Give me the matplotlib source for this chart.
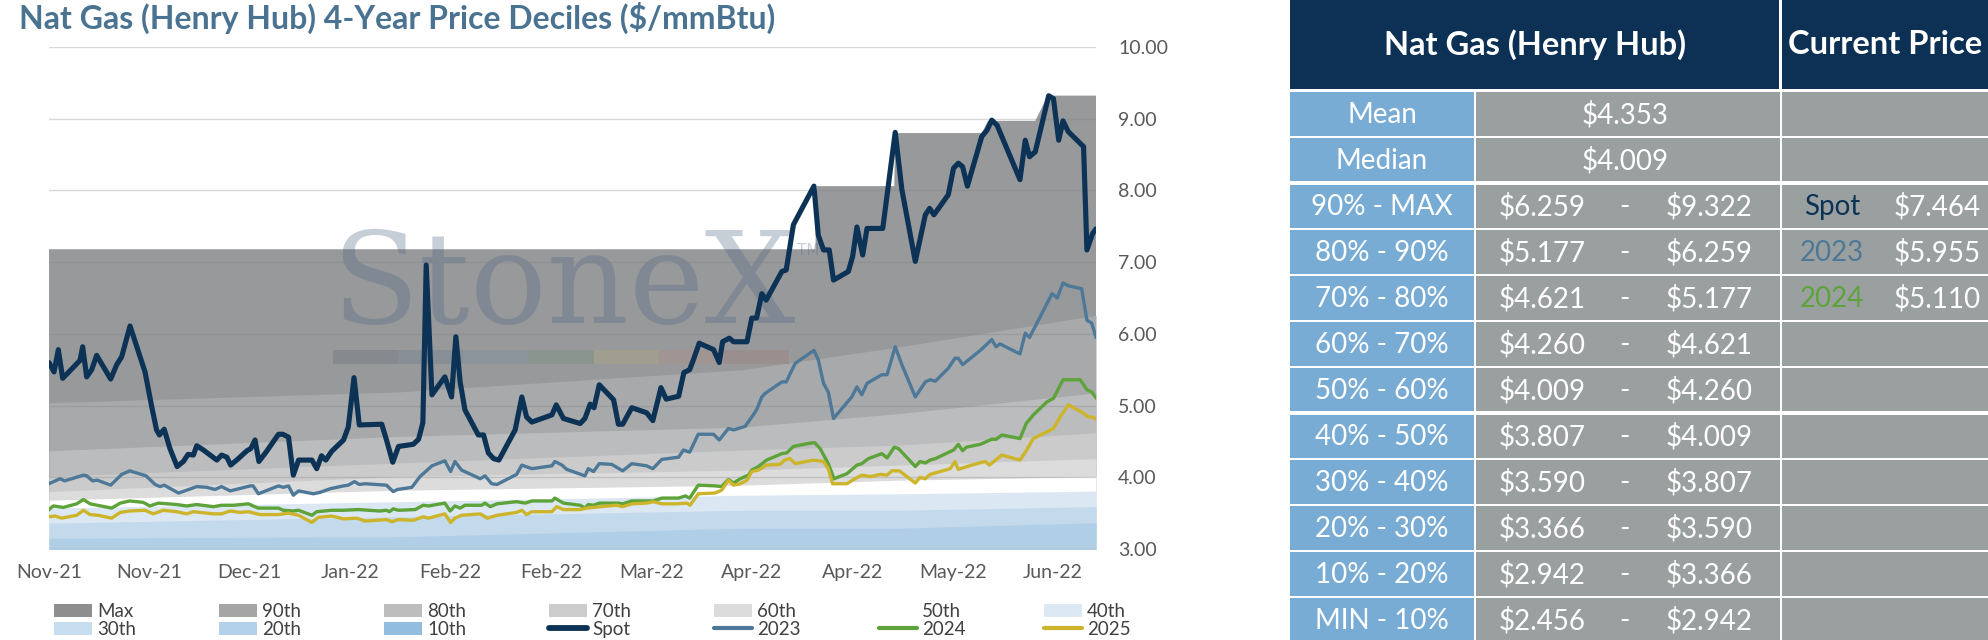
import numpy as np
import pandas as pd
import matplotlib
matplotlib.use("Agg")
import matplotlib.pyplot as plt
import matplotlib.dates as mdates
from matplotlib.patches import Patch, Rectangle
from matplotlib.lines import Line2D

plt.rcParams['font.family'] = ['Lato', 'DejaVu Sans']

# ---------------- data ----------------
START = pd.Timestamp('2021-11-09')

spot_day = [0, 1.05, 1.95, 2.86, 6.49, 7.04, 7.88, 8.93, 9.97, 12.9, 14.16, 15.2, 16.95, 20.08, 21.5,
            22.5, 23.1, 24.1, 25.3, 26.8, 28.1, 29.1, 30.2, 30.9, 32.3, 33.7, 35.1, 36.1, 37.2, 38.0,
            39.6, 41.4, 42.2, 43.1, 43.9, 45.5, 48.0, 48.9, 50.1, 51.1, 52.2, 55.0, 56.0, 57.0, 57.9,
            59.1, 61.6, 62.6, 63.8, 64.9, 69.6, 70.6, 71.9, 73.1, 76.2, 77.3, 78.2, 78.9, 80.1, 82.8,
            84.2, 85.1, 86.0, 87.0, 89.8, 90.9, 91.9, 93.0, 94.1, 97.5, 98.9, 99.9, 101.0, 105.2, 106.1,
            107.6, 111.1, 112.1, 113.2, 114.0, 115.1, 118.1, 119.1, 120.0, 121.9, 125.0, 126.3, 128.0,
            129.1, 131.7, 132.8, 134.0, 134.8, 136.0, 139.0, 140.2, 140.9, 142.3, 143.2, 146.0, 147.0,
            148.0, 149.1, 150.0, 153.3, 154.2, 155.7, 156.4, 160.0, 160.9, 162.0, 163.2, 164.1, 167.2,
            168.1, 169.0, 170.2, 171.1, 174.4, 177.0, 178.4, 181.2, 183.3, 184.2, 185.1, 188.1, 189.2,
            190.2, 191.1, 192.1, 195.1, 196.2, 197.2, 198.3, 203.1, 204.2, 205.1, 206.3, 209.1, 210.1,
            211.2, 212.1, 213.2, 216.4, 217.1, 218.3, 219.0]
spot_val = [5.60, 5.47, 5.78, 5.38, 5.63, 5.82, 5.40, 5.50, 5.70, 5.37, 5.57, 5.68, 6.11, 5.47, 4.98,
            4.66, 4.59, 4.67, 4.40, 4.15, 4.22, 4.32, 4.31, 4.44, 4.38, 4.31, 4.24, 4.31, 4.28, 4.17,
            4.26, 4.37, 4.40, 4.52, 4.22, 4.36, 4.60, 4.60, 4.56, 4.03, 4.24, 4.24, 4.12, 4.30, 4.24,
            4.36, 4.52, 4.70, 5.39, 4.73, 4.74, 4.52, 4.21, 4.43, 4.46, 4.53, 4.76, 6.96, 5.15, 5.40,
            5.12, 5.96, 5.33, 4.94, 4.59, 4.59, 4.34, 4.26, 4.24, 4.66, 5.12, 4.84, 4.77, 4.87, 5.01,
            4.82, 4.75, 4.82, 5.02, 4.97, 5.29, 5.08, 4.74, 4.74, 4.97, 4.90, 4.79, 5.25,
            5.09, 5.13, 5.46, 5.50, 5.64, 5.87, 5.78, 5.60, 5.89, 5.94, 5.89, 5.89, 6.22,
            6.22, 6.56, 6.47, 6.87, 6.89, 7.52, 7.61, 8.06, 7.38, 7.17, 7.17, 6.75, 6.87,
            7.08, 7.49, 7.10, 7.47, 7.47, 8.81, 8.01, 7.01, 7.66, 7.75, 7.66, 7.94, 8.31,
            8.38, 8.33, 8.06, 8.75, 8.84, 8.98, 8.91, 8.15, 8.70, 8.47, 8.54, 9.32, 9.28,
            8.70, 8.97, 8.82, 8.61, 7.17, 7.40, 7.464]

y2023_day = [0, 2.3, 3.3, 7.2, 7.9, 9.1, 10.1, 12.9, 15.2, 16.9, 20.3, 22.2, 23.2, 24.1, 27.1, 28.8,
             30.9, 33.0, 34.7, 36.1, 37.9, 42.1, 42.7, 43.8, 48.0, 49.0, 50.1, 51.1, 52.2, 55.3, 56.7,
             58.8, 61.6, 62.6, 63.9, 64.9, 66.1, 70.6, 72.0, 72.9, 75.9, 77.6, 80.1, 82.8, 84.0, 84.9,
             86.3, 90.2, 91.2, 92.6, 93.7, 97.8, 98.9, 101.0, 105.2, 105.8, 107.3, 108.3, 112.1, 112.8,
             113.9, 115.1, 117.7, 120.0, 121.9, 125.0, 126.3, 128.2, 131.7, 132.7, 134.0, 135.8, 139.0,
             140.2, 142.1, 143.2, 145.6, 147.0, 148.0, 149.1, 149.8, 153.3, 154.2, 156.1, 160.0, 160.9,
             162.0, 163.0, 164.1, 167.9, 169.0, 170.0, 171.1, 174.2, 175.3, 177.0, 178.4, 181.2, 183.3,
             184.3, 185.4, 188.1, 189.5, 190.2, 191.1, 194.8, 197.2, 198.1, 198.9, 203.1, 204.2, 205.1,
             209.8, 210.9, 212.1, 213.2, 216.0, 217.1, 218.1, 219.0]
y2023_val = [3.91, 3.98, 3.95, 4.03, 4.02, 3.95, 3.96, 3.89, 4.04, 4.09, 4.02, 3.90, 3.87, 3.89, 3.78, 3.82,
             3.87, 3.86, 3.83, 3.87, 3.81, 3.88, 3.88, 3.77, 3.88, 3.86, 3.88, 3.75, 3.81, 3.77, 3.79,
             3.84, 3.88, 3.89, 3.94, 3.90, 3.91, 3.89, 3.80, 3.83, 3.86, 4.01, 4.16, 4.23, 4.08, 4.22,
             4.10, 3.98, 4.02, 3.91, 3.90, 4.04, 4.17, 4.12, 4.16, 4.22, 4.17, 4.11, 4.02, 4.12,
             4.08, 4.19, 4.18, 4.09, 4.19, 4.16, 4.12, 4.25, 4.28, 4.38, 4.35, 4.60, 4.60,
             4.52, 4.68, 4.66, 4.71, 4.84, 4.94, 5.12, 5.17, 5.33, 5.33, 5.59, 5.77, 5.64,
             5.31, 5.19, 4.82, 5.12, 5.26, 5.15, 5.31, 5.43, 5.43, 5.82, 5.57, 5.12, 5.33,
             5.36, 5.34, 5.52, 5.66, 5.66, 5.57, 5.77, 5.92, 5.82, 5.86, 5.72, 6.01, 5.95,
             6.56, 6.50, 6.71, 6.67, 6.63, 6.19, 6.15, 5.955]

y2024_day = [0, 0.9, 3.0, 5.8, 7.2, 8.6, 13.1, 14.9, 16.9, 19.7, 21.1, 22.9, 26.7, 28.8, 30.9, 34.4,
             36.1, 38.6, 41.7, 42.7, 43.8, 48.0, 49.0, 51.1, 52.2, 55.0, 56.0, 59.1, 61.6, 64.7, 69.2,
             70.6, 71.2, 72.0, 73.1, 76.6, 78.3, 79.4, 82.8, 83.9, 84.9, 86.0, 87.0, 90.5, 91.2, 92.3,
             93.7, 97.8, 99.6, 101.0, 105.2, 105.8, 107.6, 111.1, 112.1, 112.8, 113.9, 115.1, 119.1,
             120.0, 121.9, 126.4, 128.2, 131.7, 133.1, 134.0, 135.8, 139.3, 140.7, 142.1, 143.2, 144.6,
             146.3, 147.0, 148.4, 150.1, 153.3, 154.3, 155.7, 159.5, 160.2, 161.3, 163.0, 164.2, 166.9,
             169.0, 170.0, 171.4, 174.2, 175.3, 176.8, 177.7, 181.2, 182.2, 183.3, 184.3, 185.4, 189.2,
             190.2, 191.1, 191.9, 194.8, 197.2, 198.1, 199.3, 203.1, 204.4, 205.9, 208.7, 210.1, 212.1,
             215.7, 217.1, 218.1, 219.0]
y2024_val = [3.55, 3.60, 3.58, 3.63, 3.69, 3.63, 3.57, 3.64, 3.67, 3.65, 3.60, 3.64, 3.62, 3.60, 3.62, 3.59,
             3.61, 3.61, 3.63, 3.60, 3.57, 3.57, 3.54, 3.53, 3.54, 3.47, 3.52, 3.54, 3.54, 3.55, 3.53,
             3.54, 3.52, 3.56, 3.54, 3.55, 3.61, 3.60, 3.64, 3.53, 3.60, 3.57, 3.61, 3.61, 3.64, 3.59,
             3.63, 3.66, 3.64, 3.67, 3.67, 3.71, 3.64, 3.61, 3.57, 3.62, 3.61, 3.64, 3.64,
             3.63, 3.67, 3.67, 3.71, 3.71, 3.74, 3.71, 3.89, 3.88, 3.87, 3.97, 3.92, 3.98,
             4.03, 4.10, 4.15, 4.24, 4.33, 4.34, 4.43, 4.48, 4.48, 4.40, 4.19, 3.98, 4.05,
             4.17, 4.19, 4.26, 4.33, 4.27, 4.42, 4.40, 4.15, 4.22, 4.20, 4.24, 4.26, 4.38,
             4.46, 4.37, 4.42, 4.46, 4.53, 4.53, 4.59, 4.54, 4.75, 4.87, 5.05, 5.10, 5.36,
             5.36, 5.22, 5.19, 5.110]

y2025_day = [0, 1.3, 2.6, 5.8, 7.2, 8.6, 10.3, 13.1, 14.9, 16.9, 20.1, 21.8, 23.9, 26.7, 28.8, 30.2,
             34.4, 36.1, 37.9, 40.0, 41.7, 44.1, 48.0, 50.1, 52.2, 55.0, 56.3, 59.1, 61.6, 64.4, 66.1,
             70.6, 71.7, 73.1, 76.2, 78.3, 79.4, 82.8, 84.0, 84.9, 86.3, 90.2, 91.7, 93.7, 97.8, 98.9,
             99.9, 101.0, 105.2, 106.2, 107.6, 111.1, 112.5, 115.3, 118.7, 120.0, 121.9, 125.0, 126.4,
             128.2, 131.3, 133.4, 134.1, 135.8, 139.3, 140.7, 142.1, 143.2, 144.6, 146.0, 147.0, 148.4,
             150.1, 152.9, 153.9, 155.0, 156.1, 159.9, 162.0, 163.0, 163.9, 166.9, 168.6, 170.0, 171.8,
             173.9, 175.3, 176.3, 177.9, 181.2, 182.2, 183.3, 184.3, 188.5, 189.5, 190.2, 193.0, 195.8,
             196.7, 199.3, 203.1, 204.5, 205.9, 210.1, 211.5, 213.2, 216.0, 217.4, 218.3, 219.0]
y2025_val = [3.45, 3.46, 3.43, 3.47, 3.54, 3.48, 3.47, 3.43, 3.51, 3.53, 3.54, 3.49, 3.54, 3.52, 3.49, 3.52,
             3.49, 3.49, 3.53, 3.51, 3.52, 3.48, 3.48, 3.50, 3.47, 3.37, 3.44, 3.46, 3.42, 3.43, 3.39,
             3.41, 3.38, 3.41, 3.40, 3.45, 3.43, 3.49, 3.37, 3.43, 3.47, 3.49, 3.43, 3.47, 3.51, 3.54,
             3.48, 3.52, 3.52, 3.59, 3.55, 3.55, 3.57, 3.59, 3.61, 3.59, 3.63, 3.64, 3.66,
             3.63, 3.63, 3.64, 3.61, 3.77, 3.78, 3.82, 3.96, 3.89, 3.91, 3.96, 4.08, 4.10,
             4.17, 4.18, 4.24, 4.26, 4.19, 4.24, 4.22, 4.12, 3.91, 3.91, 3.98, 4.03, 4.01,
             4.04, 4.03, 4.09, 4.09, 3.92, 4.00, 3.98, 4.04, 4.12, 4.22, 4.11, 4.17, 4.22,
             4.17, 4.31, 4.24, 4.38, 4.54, 4.68, 4.84, 5.01, 4.91, 4.84, 4.84, 4.81]

# decile envelopes (read at a few dates)
dec_day = [0, 73, 145, 178, 219]
p10 = [2.75, 2.80, 2.86, 2.90, 2.942]
p20 = [3.15, 3.17, 3.29, 3.29, 3.366]
p30 = [3.36, 3.45, 3.54, 3.54, 3.590]
p40 = [3.57, 3.66, 3.75, 3.77, 3.807]
p50 = [3.68, 3.82, 3.89, 3.96, 4.009]
p60 = [3.80, 4.01, 4.10, 4.17, 4.260]
p70 = [4.01, 4.20, 4.38, 4.45, 4.621]
p80 = [4.37, 4.57, 4.70, 4.89, 5.177]
p90 = [5.04, 5.19, 5.50, 5.82, 6.259]
max_day = [0, 160.3, 160.6, 176.8, 177.0, 195.1, 196.4, 206.3, 208.9, 219]
max_val = [7.18, 7.18, 8.06, 8.06, 8.80, 8.80, 8.97, 8.97, 9.322, 9.322]

# table data
table_title = 'Nat Gas (Henry Hub)'
stat_names = ['Mean', 'Median']
stat_vals = [4.353, 4.009]
bucket_names = ['90% - MAX', '80% - 90%', '70% - 80%', '60% - 70%', '50% - 60%',
                '40% - 50%', '30% - 40%', '20% - 30%', '10% - 20%', 'MIN - 10%']
bucket_low = [6.259, 5.177, 4.621, 4.260, 4.009, 3.807, 3.590, 3.366, 2.942, 2.456]
bucket_high = [9.322, 6.259, 5.177, 4.621, 4.260, 4.009, 3.807, 3.590, 3.366, 2.942]
current_names = ['Spot', '2023', '2024']
current_vals = [7.464, 5.955, 5.110]

y_ticks = [3, 4, 5, 6, 7, 8, 9, 10]

# ---------------- styling ----------------
W, H = 1988, 640
C_SPOT, C_23, C_24, C_25 = '#0c3255', '#4e7898', '#5da33a', '#cdb52b'
band_colors = {
    'Max': '#98999b', '90th': '#a8a9ab', '80th': '#bbbcbd', '70th': '#cbcbcb',
    '60th': '#dcdcdc', '50th': '#ffffff', '40th': '#dbe7f3', '30th': '#c3d9ec',
    '20th': '#b0cee6', '10th': '#94bfe0'}
legend_colors = {
    'Max': '#8e8e8e', '90th': '#a5a5a5', '80th': '#bdbdbd', '70th': '#cccccc',
    '60th': '#dcdcdc', '50th': '#ffffff', '40th': '#dce8f4', '30th': '#c7ddf0',
    '20th': '#b3d1ea', '10th': '#92bde0'}
TXT = '#595959'


def to_dates(days):
    return START + pd.to_timedelta(np.asarray(days, dtype=float), unit='D')


fig = plt.figure(figsize=(W / 100, H / 100), dpi=100)
ax = fig.add_axes([49 / W, 1 - 549 / H, (1096 - 49) / W, (549 - 47) / H])

d_dec = to_dates(dec_day)
bottom = 0.0
ax.fill_between(to_dates(max_day), bottom, max_val, color=band_colors['Max'], lw=0, zorder=1)
for name, arr in [('90th', p90), ('80th', p80), ('70th', p70), ('60th', p60), ('50th', p50),
                  ('40th', p40), ('30th', p30), ('20th', p20), ('10th', p10)]:
    ax.fill_between(d_dec, bottom, arr, color=band_colors[name], lw=0, zorder=1)

# watermark
ax.text((331 - 49) / 1047, (549 - 323) / 502, 'StoneX', transform=ax.transAxes,
        family='DejaVu Serif', fontsize=92, color='#4f6a85', alpha=0.32,
        ha='left', va='baseline', zorder=1.3)
ax.text((797 - 49) / 1047, (549 - 255) / 502, 'TM', transform=ax.transAxes,
        family='DejaVu Sans', fontsize=11, color='#4f6a85', alpha=0.32,
        ha='left', va='baseline', zorder=1.3)
bar_cols = ['#86898d', '#878e96', '#8c949c', '#8a958f', '#9f9e8f', '#a09592', '#9b8e8e']
seg_w = (789 - 333) / 7
for i, c in enumerate(bar_cols):
    ax.add_patch(Rectangle(((333 - 49 + i * seg_w) / 1047, (549 - 364) / 502), seg_w / 1047, 14 / 502,
                           transform=ax.transAxes, facecolor=c, edgecolor='none', zorder=1.3))

ax.plot(to_dates(y2023_day), y2023_val, color=C_23, lw=2.4, zorder=3, solid_joinstyle='round')
ax.plot(to_dates(y2024_day), y2024_val, color=C_24, lw=2.4, zorder=3.1, solid_joinstyle='round')
ax.plot(to_dates(y2025_day), y2025_val, color=C_25, lw=2.4, zorder=3.2, solid_joinstyle='round')
ax.plot(to_dates(spot_day), spot_val, color=C_SPOT, lw=3.7, zorder=3.3, solid_joinstyle='round',
        solid_capstyle='round')

ax.set_ylim(3, 10)
ax.set_xlim(START, START + pd.Timedelta(days=219))
ax.set_yticks(y_ticks)
ax.yaxis.set_major_formatter(matplotlib.ticker.FormatStrFormatter('%.2f'))
ax.yaxis.tick_right()
ax.set_xticks(to_dates(np.arange(0, 219, 21)))
ax.xaxis.set_major_formatter(mdates.DateFormatter('%b-%y'))
ax.tick_params(axis='both', length=0, labelsize=14, labelcolor=TXT)
ax.tick_params(axis='y', pad=16)
ax.tick_params(axis='x', pad=11)
ax.grid(axis='y', color='#808080', alpha=0.3, lw=1)
ax.grid(axis='x', visible=False)
for s in ax.spines.values():
    s.set_visible(False)
ax.patch.set_alpha(0)

# title
fig.text(19 / W, 1 - 29 / H, 'Nat Gas (Henry Hub) 4-Year Price Deciles ($/mmBtu)',
         fontsize=23, fontweight='bold', color='#4a7391', ha='left', va='baseline')

# legend: one small legend per column, placed at fixed pitch
row1 = ['Max', '90th', '80th', '70th', '60th', '50th', '40th']
row2_patch = ['30th', '20th', '10th']
h1 = [Patch(facecolor=legend_colors[n], edgecolor='none', label=n) for n in row1]
h2 = [Patch(facecolor=legend_colors[n], edgecolor='none', label=n) for n in row2_patch]
h2 += [Line2D([], [], color=C_SPOT, lw=4.2, solid_capstyle='round', label='Spot'),
       Line2D([], [], color=C_23, lw=3.0, solid_capstyle='round', label='2023'),
       Line2D([], [], color=C_24, lw=3.0, solid_capstyle='round', label='2024'),
       Line2D([], [], color=C_25, lw=3.0, solid_capstyle='round', label='2025')]
for k, (a, b) in enumerate(zip(h1, h2)):
    leg = fig.legend(handles=[a, b], loc='upper left',
                     bbox_to_anchor=((54 + 165 * k) / W, 1 - 603 / H),
                     ncol=1, frameon=False, fontsize=13.5, handlelength=2.05, handleheight=0.7,
                     handletextpad=0.25, labelspacing=0.05, borderpad=0, borderaxespad=0)
    for t in leg.get_texts():
        t.set_color('#404040')

# ---------------- table ----------------
tax = fig.add_axes([0, 0, 1, 1])
tax.set_xlim(0, W)
tax.set_ylim(H, 0)
tax.axis('off')

NAVY = '#0c3155'
BLUE = '#79acd5'
GRAY = '#99a09f'
X0, X1, X2, X3 = 1290, 1474, 1780, W
ROW0, RH = 91, 46

tax.add_patch(Rectangle((X0, 0), X2 - 1 - X0, 89, facecolor=NAVY, edgecolor='none'))
tax.add_patch(Rectangle((X2 + 2, 0), X3 - X2 - 2, 89, facecolor=NAVY, edgecolor='none'))
tax.text((X0 + X2) / 2, 45, table_title, color='white', fontsize=23.5, fontweight='bold',
         ha='center', va='center')
tax.text((X2 + X3) / 2 + 1, 45, 'Current Price', color='white', fontsize=23.5, fontweight='bold',
         ha='center', va='center')

row_names = stat_names + bucket_names
n_rows = len(row_names)
cur_colors = [C_SPOT, C_23, C_24]
thick_after = {1, 6}
FS = 20
for i in range(n_rows):
    top = ROW0 + RH * i + 0.8
    bot = ROW0 + RH * (i + 1) - 0.8
    if i in thick_after:
        bot -= 1.6
    if (i - 1) in thick_after:
        top += 1.6
    h = bot - top
    tax.add_patch(Rectangle((X0, top), X1 - X0, h, facecolor=BLUE, edgecolor='none'))
    tax.add_patch(Rectangle((X1 + 1.5, top), X2 - X1 - 1.5, h, facecolor=GRAY, edgecolor='none'))
    tax.add_patch(Rectangle((X2 + 1.5, top), X3 - X2 - 1.5, h, facecolor=GRAY, edgecolor='none'))
    yc = ROW0 + RH * i + RH / 2 + 1
    tax.text((X0 + X1) / 2, yc, row_names[i], color='white', fontsize=FS,
             ha='center', va='center')
    if i < 2:
        tax.text(1625, yc, '${:.3f}'.format(stat_vals[i]), color='white', fontsize=FS,
                 ha='center', va='center')
    else:
        k = i - 2
        tax.text(1542, yc, '${:.3f}'.format(bucket_low[k]), color='white', fontsize=FS,
                 ha='center', va='center')
        tax.text(1624, yc, '-', color='white', fontsize=FS, ha='center', va='center')
        tax.text(1709, yc, '${:.3f}'.format(bucket_high[k]), color='white', fontsize=FS,
                 ha='center', va='center')
        if k < len(current_names):
            tax.text(1832, yc, current_names[k], color=cur_colors[k], fontsize=FS,
                     ha='center', va='center')
            tax.text(1937, yc, '${:.3f}'.format(current_vals[k]), color='white', fontsize=FS,
                     ha='center', va='center')

fig.savefig('out.png', dpi=100)
